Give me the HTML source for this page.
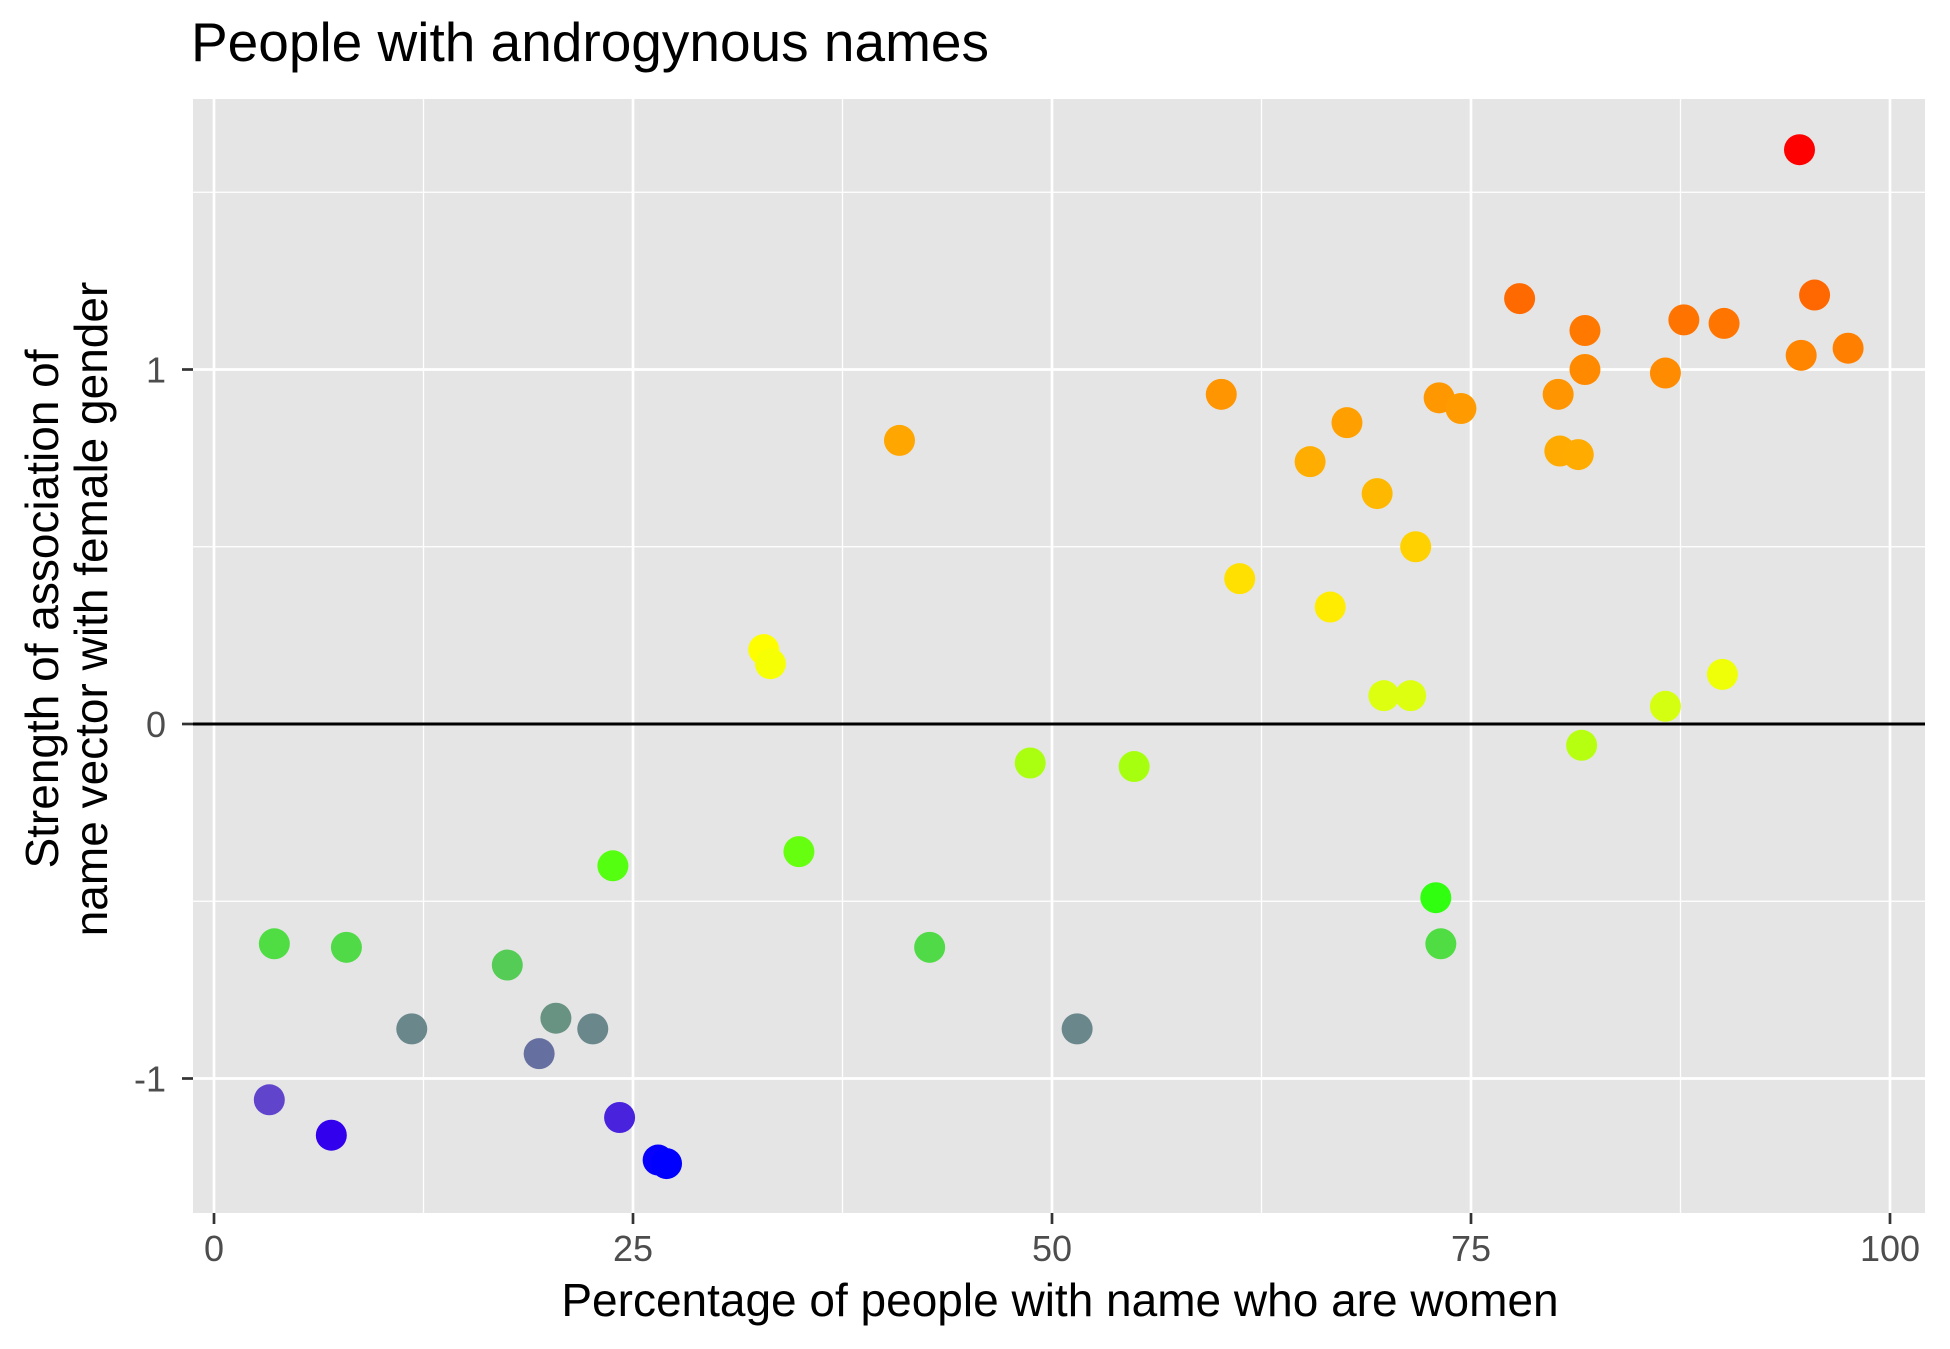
<!DOCTYPE html>
<html><head><meta charset="utf-8">
<style>
html,body{margin:0;padding:0;background:#fff;}
svg{display:block;font-family:"Liberation Sans",Arial,sans-serif;}
</style></head>
<body>
<svg id="chart" width="1950" height="1349" viewBox="0 0 1950 1349">
<text x="191" y="61" font-size="55" fill="#000">People with androgynous names</text>
<rect x="193" y="99" width="1732" height="1114" fill="#e5e5e5"/>
<g id="grid"></g>
<g id="axes"></g>
<g id="points"></g>
<text x="1060" y="1316" font-size="46" text-anchor="middle" fill="#000">Percentage of people with name who are women</text>
<text transform="translate(58,609) rotate(-90)" font-size="46" text-anchor="middle" fill="#000"><tspan x="0" dy="0">Strength of association of</tspan><tspan x="0" dy="49">name vector with female gender</tspan></text>
</svg>
<script>
const xValues = [94.6,77.9,95.5,87.7,90.1,81.8,97.5,94.7,81.8,86.6,60.1,80.2,73.1,74.4,67.6,40.9,80.3,81.4,65.4,69.4,71.7,61.2,66.6,32.8,33.2,90.0,69.8,71.4,86.6,81.6,48.7,54.9,34.9,23.8,72.9,3.6,7.9,73.2,42.7,17.5,20.4,11.8,22.6,51.5,19.4,3.3,24.2,7.0,26.5,27.0];
const yValues = [1.62,1.20,1.21,1.14,1.13,1.11,1.06,1.04,1.00,0.99,0.93,0.93,0.92,0.89,0.85,0.80,0.77,0.76,0.74,0.65,0.50,0.41,0.33,0.21,0.17,0.14,0.08,0.08,0.05,-0.06,-0.11,-0.12,-0.36,-0.40,-0.49,-0.62,-0.63,-0.62,-0.63,-0.68,-0.83,-0.86,-0.86,-0.86,-0.93,-1.06,-1.11,-1.16,-1.23,-1.24];
const xTicks = [0,25,50,75,100];
const xTickLabels = ["0","25","50","75","100"];
const yTicks = [-1,0,1];
const yTickLabels = ["-1","0","1"];
const xMinor = [12.5,37.5,62.5,87.5];
const yMinor = [-0.5,0.5,1.5];
const colorStops = [[-1.24,"#0000ff"],[-1.16,"#3300ee"],[-1.06,"#6044cc"],[-0.93,"#6670a0"],[-0.85,"#6a8a88"],[-0.68,"#55cc55"],[-0.62,"#50dd44"],[-0.49,"#30ff10"],[-0.36,"#66ff10"],[-0.11,"#aaff10"],[0.08,"#ddff10"],[0.2,"#ffff00"],[0.41,"#ffe000"],[0.65,"#ffb800"],[0.9,"#ff9a00"],[1.2,"#ff6a00"],[1.62,"#ff0000"]];

const PL=193, PR=1925, PT=99, PB=1213;
const xs = v => 214 + (v/100)*(1890-214);
const ys = v => 724 - v*354.5;
const NS="http://www.w3.org/2000/svg";
function mk(tag, attrs, parent){const e=document.createElementNS(NS,tag);for(const k in attrs)e.setAttribute(k,attrs[k]);parent.appendChild(e);return e;}
function hex(h){return [1,3,5].map(i=>parseInt(h.substr(i,2),16));}
function colorFor(y){
  if(y<=colorStops[0][0])return colorStops[0][1];
  for(let i=1;i<colorStops.length;i++){
    if(y<=colorStops[i][0]){
      const [a,ca]=colorStops[i-1],[b,cb]=colorStops[i];
      const t=(y-a)/(b-a);const A=hex(ca),B=hex(cb);
      return "rgb("+A.map((c,j)=>Math.round(c+(B[j]-c)*t)).join(",")+")";
    }
  }
  return colorStops[colorStops.length-1][1];
}
const grid=document.getElementById('grid'), axes=document.getElementById('axes'), pts=document.getElementById('points');
xMinor.forEach(v=>{const l=mk('line',{x1:xs(v),x2:xs(v),y1:PT,y2:PB,stroke:'#fff','stroke-width':1.3},grid);

});
yMinor.forEach(v=>{const l=mk('line',{x1:PL,x2:PR,y1:ys(v),y2:ys(v),stroke:'#fff','stroke-width':1.3},grid);

});
xTicks.forEach((v,i)=>{
  const l=mk('line',{x1:xs(v),x2:xs(v),y1:PT,y2:PB,stroke:'#fff','stroke-width':2.7},grid);
  
  
  const t=mk('line',{x1:xs(v),x2:xs(v),y1:PB,y2:PB+11,stroke:'#333','stroke-width':2.7},axes);
  
  
  const tx=mk('text',{x:xs(v),y:1261,'font-size':36,'text-anchor':'middle',fill:'#4d4d4d'},axes);
  tx.textContent=xTickLabels[i];
  
  
});
yTicks.forEach((v,i)=>{
  const l=mk('line',{x1:PL,x2:PR,y1:ys(v),y2:ys(v),stroke:v===0?'#000':'#fff','stroke-width':v===0?3:2.7},grid);
  
  
  const t=mk('line',{x1:PL-11,x2:PL,y1:ys(v),y2:ys(v),stroke:'#333','stroke-width':2.7},axes);
  
  
  const tx=mk('text',{x:166,y:ys(v)+13,'font-size':36,'text-anchor':'end',fill:'#4d4d4d'},axes);
  tx.textContent=yTickLabels[i];
  
  
});
xValues.forEach((x,i)=>{
  const c=mk('circle',{cx:xs(x),cy:ys(yValues[i]),r:15.5,fill:colorFor(yValues[i])},pts);
  
  
});
</script>
</body></html>
